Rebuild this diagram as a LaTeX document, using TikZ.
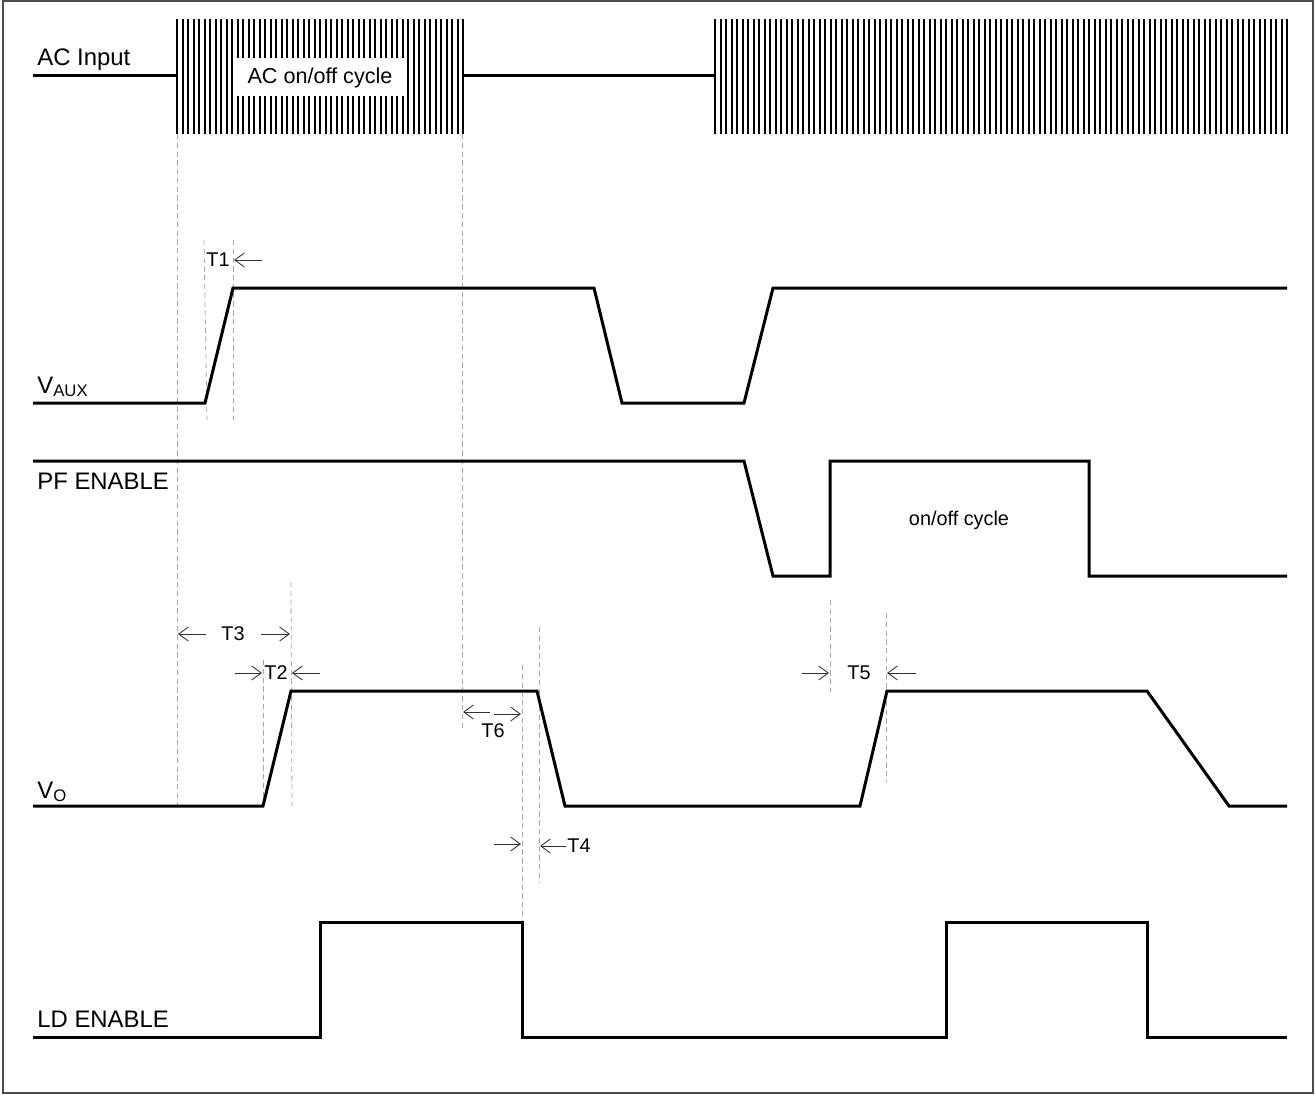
\documentclass[tikz,border=0pt]{standalone}
\usepackage{fontspec}
\setmainfont{Liberation Sans}
\usetikzlibrary{arrows.meta}
\begin{document}
\begin{tikzpicture}[x=0.02cm,y=-0.02cm,
  sig/.style={line width=0.06cm,line join=miter},
  guide/.style={gray!70,line width=0.45pt,dash pattern=on 3pt off 2pt},
  hatch/.style={line width=0.04cm,black},
  dim/.style={line width=0.5pt,black!80,-{Straight Barb[length=5.5pt,width=8pt,line width=0.5pt]}},
  biglab/.style={font=\fontsize{13.6}{15}\selectfont,anchor=base west,inner sep=0pt},
  smalllab/.style={font=\fontsize{11.3}{13}\selectfont,inner sep=0pt}]
\useasboundingbox (0,0) rectangle (1315,1095);
\draw[line width=0.9pt,gray!60!black] (3,1) rectangle (1313,1093);

% AC input
\draw[sig] (33,76) -- (177,76);
\draw[sig] (463,76) -- (715,76);
\foreach \i in {0,...,52} {\draw[hatch] ({177+5.5*\i},19) -- ({177+5.5*\i},134);}
\foreach \i in {0,...,104} {\draw[hatch] ({715+5.5*\i},19) -- ({715+5.5*\i},134);}
\fill[white] (233,58) rectangle (405,96);
\node[smalllab,font=\fontsize{12.3}{14}\selectfont] (accycle) at (320,78) {AC on/off cycle};
\node[biglab] (acin) at (37,66) {AC Input};

% guides
\draw[guide] (177,134) -- (177,806);
\draw[guide] (462,134) -- (462,728);
\draw[guide] (204,240) -- (207,420);
\draw[guide] (233,240) -- (233,420);
\draw[guide] (263,660) -- (263,806);
\draw[guide] (291,582) -- (292,808);
\draw[guide] (522,665) -- (522,920);
\draw[guide] (539,627) -- (539,882);
\draw[guide] (830,600) -- (830,692);
\draw[guide] (886,613) -- (886,782);

% VAUX
\node[biglab] (vaux) at (37,393) {V\textsubscript{AUX}};
\draw[sig] (33,403) -- (205,403) -- (233,288) -- (594,288) -- (622,403) -- (744,403) -- (773,288) -- (1287,288);

% PF ENABLE
\node[biglab] (pfen) at (37,489) {PF ENABLE};
\draw[sig] (33,461) -- (744,461) -- (773,576) -- (830,576) -- (830,461) -- (1089,461) -- (1089,576) -- (1287,576);
\node[smalllab] (onoff) at (959,520) {on/off cycle};

% VO
\node[biglab] (vo) at (37,798) {V\textsubscript{O}};
\draw[sig] (33,806) -- (263,806) -- (291,691) -- (537,691) -- (565,806) -- (860,806) -- (887,691) -- (1147,691) -- (1229,806) -- (1287,806);

% LD ENABLE
\node[biglab] (lden) at (37,1027) {LD ENABLE};
\draw[sig] (33,1037) -- (320,1037) -- (320,922) -- (522,922) -- (522,1037) -- (946,1037) -- (946,922) -- (1147,922) -- (1147,1037) -- (1287,1037);

% T1
\node[smalllab] (t1) at (218,260) {T1};
\coordinate (t1a) at (262,260); \coordinate (t1b) at (234,260);
\draw[dim] (t1a) -- (t1b);

% T3
\node[smalllab] (t3) at (233,634) {T3};
\coordinate (t3a) at (206,634); \coordinate (t3b) at (178,634);
\coordinate (t3c) at (261,634); \coordinate (t3d) at (290,634);
\draw[dim] (t3a) -- (t3b);
\draw[dim] (t3c) -- (t3d);

% T2
\node[smalllab] (t2) at (276,673) {T2};
\coordinate (t2a) at (235,673); \coordinate (t2b) at (262,673);
\coordinate (t2c) at (320,673); \coordinate (t2d) at (292,673);
\draw[dim] (t2a) -- (t2b);
\draw[dim] (t2c) -- (t2d);

% T6
\node[smalllab] (t6) at (493,731) {T6};
\coordinate (t6a) at (490,712); \coordinate (t6b) at (463,712);
\coordinate (t6c) at (494,714); \coordinate (t6d) at (521,714);
\draw[dim] (t6a) -- (t6b);
\draw[dim] (t6c) -- (t6d);

% T4
\node[smalllab] (t4) at (579,846) {T4};
\coordinate (t4a) at (494,844); \coordinate (t4b) at (521,844);
\coordinate (t4c) at (566,846); \coordinate (t4d) at (540,846);
\draw[dim] (t4a) -- (t4b);
\draw[dim] (t4c) -- (t4d);

% T5
\node[smalllab] (t5) at (859,673) {T5};
\coordinate (t5a) at (802,673); \coordinate (t5b) at (829,673);
\coordinate (t5c) at (916,673); \coordinate (t5d) at (887,673);
\draw[dim] (t5a) -- (t5b);
\draw[dim] (t5c) -- (t5d);
\end{tikzpicture}
\end{document}
